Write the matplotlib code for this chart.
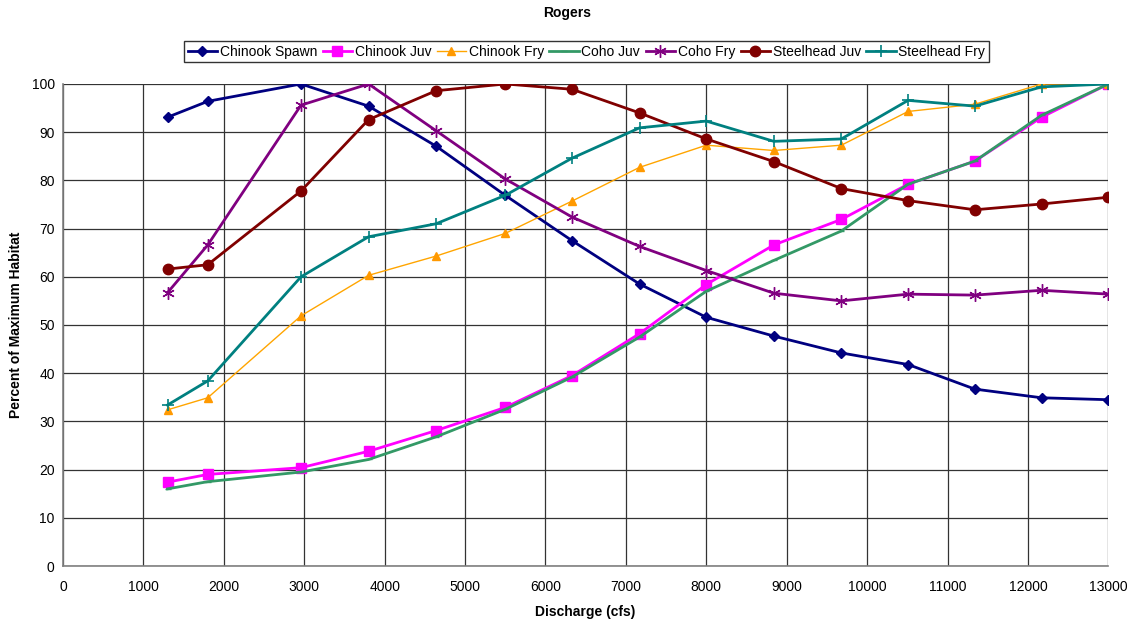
import matplotlib
matplotlib.use("Agg")
import matplotlib.pyplot as plt

plt.rcParams['font.family'] = ['Liberation Sans', 'DejaVu Sans']

discharge = [1300, 1800, 2960, 3800, 4640, 5500, 6330, 7170, 8000, 8840, 9680, 10510, 11340, 12170, 13000]

chinook_spawn = [93.1, 96.4, 100, 95.4, 87.1, 76.9, 67.5, 58.5, 51.6, 47.7, 44.2, 41.8, 36.7, 34.9, 34.5]
chinook_juv = [17.4, 19.0, 20.4, 23.8, 28.1, 32.9, 39.5, 48.2, 58.4, 66.6, 71.9, 79.2, 84.0, 93.1, 100]
chinook_fry = [32.4, 34.9, 51.9, 60.3, 64.3, 69.0, 75.7, 82.7, 87.3, 86.2, 87.3, 94.3, 95.8, 100, 100]
coho_juv = [16.0, 17.5, 19.5, 22.1, 26.8, 32.5, 39.2, 47.5, 57.0, 63.4, 69.5, 79.2, 84.0, 93.5, 100]
coho_fry = [56.7, 66.6, 95.6, 100, 90.3, 80.3, 72.4, 66.3, 61.3, 56.6, 55.0, 56.4, 56.2, 57.2, 56.4]
steelhead_juv = [61.6, 62.5, 77.8, 92.6, 98.6, 100, 98.9, 94.0, 88.6, 83.9, 78.3, 75.8, 73.9, 75.1, 76.5]
steelhead_fry = [33.4, 38.4, 60.0, 68.3, 71.0, 76.9, 84.6, 90.9, 92.3, 88.1, 88.6, 96.6, 95.4, 99.4, 100]

x_ticks = list(range(0, 13001, 1000))
y_ticks = list(range(0, 101, 10))

fig = plt.figure(figsize=(11.35, 6.22), dpi=100)
ax = fig.add_axes([0.0555, 0.09, 0.921, 0.775])

series = [
    ("Chinook Spawn", chinook_spawn, dict(color="#000080", marker="D", ms=5.5, lw=2)),
    ("Chinook Juv", chinook_juv, dict(color="#FF00FF", marker="s", ms=7, lw=2)),
    ("Chinook Fry", chinook_fry, dict(color="#FFA500", marker="^", ms=6, lw=1,
                                      mfc="#FF9900", mec="#FF9900")),
    ("Coho Juv", coho_juv, dict(color="#339966", marker="_", ms=5, lw=2)),
    ("Coho Fry", coho_fry, dict(color="#800080", marker=(6, 2, 0), ms=9, lw=2, mew=1)),
    ("Steelhead Juv", steelhead_juv, dict(color="#800000", marker="o", ms=7.5, lw=2)),
    ("Steelhead Fry", steelhead_fry, dict(color="#008080", marker="+", ms=9, lw=2, mew=1.2)),
]

for name, vals, style in series:
    ax.plot(discharge, vals, label=name, **style)

ax.set_xlim(0, 13000)
ax.set_ylim(0, 100)
ax.set_xticks(x_ticks)
ax.set_yticks(y_ticks)
ax.tick_params(axis='both', length=0, labelsize=10, pad=10)
ax.tick_params(axis='y', pad=6)
ax.grid(True, color="#333333", lw=0.9)
ax.set_axisbelow(True)
for side in ("top", "right"):
    ax.spines[side].set_visible(False)
for side in ("left", "bottom"):
    ax.spines[side].set_color("#808080")
    ax.spines[side].set_linewidth(1.2)

ax.set_xlabel("Discharge (cfs)", fontsize=10, fontweight="bold", labelpad=8)
ax.set_ylabel("Percent of Maximum Habitat", fontsize=10, fontweight="bold", labelpad=6)
fig.text(0.5, 0.99, "Rogers", ha="center", va="top", fontsize=10, fontweight="bold")

leg = fig.legend(loc="center", bbox_to_anchor=(0.5167, 0.917), ncol=7, fontsize=10,
                 frameon=True, fancybox=False, edgecolor="black", handlelength=2.1,
                 handletextpad=0.2, columnspacing=0.4, borderpad=0.25)
leg.get_frame().set_linewidth(1.0)

fig.savefig("out.png", dpi=100)
